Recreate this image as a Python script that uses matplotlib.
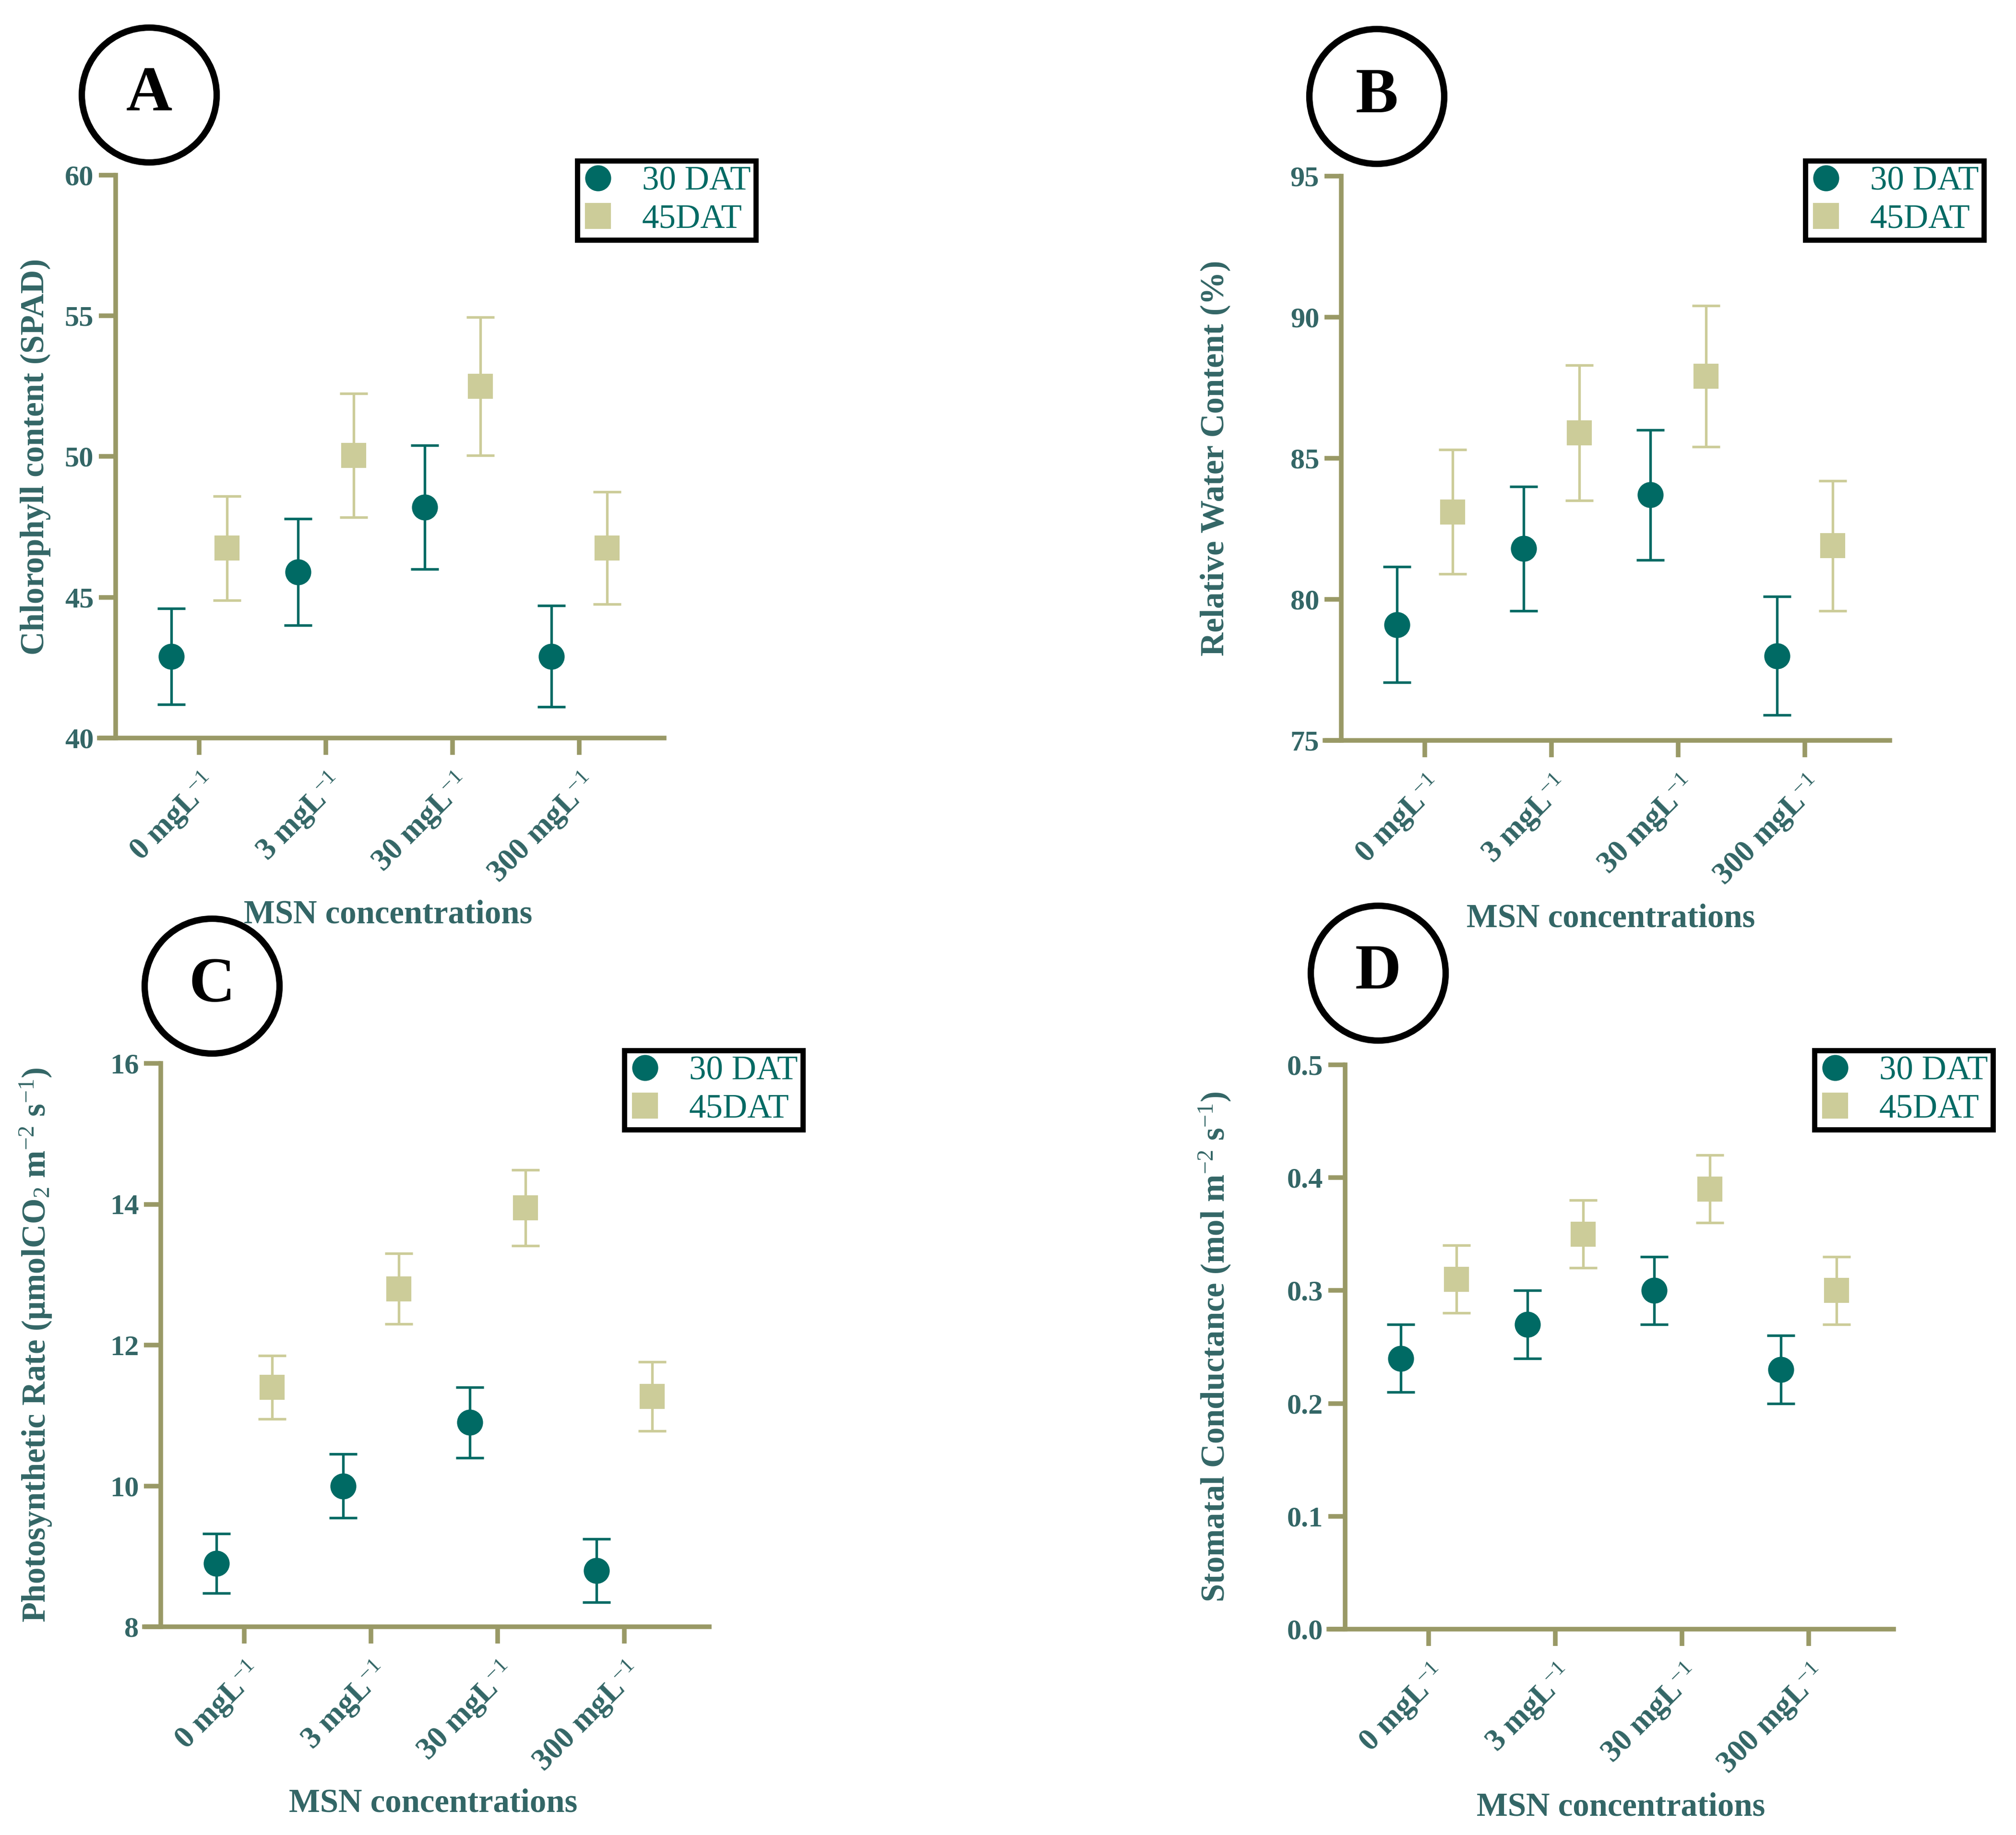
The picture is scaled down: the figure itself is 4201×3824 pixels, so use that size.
import numpy as np
import matplotlib
matplotlib.use("Agg")
import matplotlib.pyplot as plt
from matplotlib.lines import Line2D
from matplotlib.patches import Ellipse

plt.rcParams['font.family'] = ['Liberation Serif', 'DejaVu Serif']
plt.rcParams['mathtext.fontset'] = 'custom'
plt.rcParams['mathtext.rm'] = 'Liberation Serif'
plt.rcParams['mathtext.it'] = 'Liberation Serif:italic'
plt.rcParams['mathtext.bf'] = 'Liberation Serif:bold'

# data
categories = ['0 mgL$^{-1}$', '3 mgL$^{-1}$', '30 mgL$^{-1}$', '300 mgL$^{-1}$']

chl_30 = [42.9, 45.9, 48.2, 42.9]
chl_30_err = [1.7, 1.9, 2.2, 1.8]
chl_45 = [46.75, 50.05, 52.5, 46.75]
chl_45_err = [1.85, 2.2, 2.45, 2.0]

rwc_30 = [79.1, 81.8, 83.7, 78.0]
rwc_30_err = [2.05, 2.2, 2.3, 2.1]
rwc_45 = [83.1, 85.9, 87.9, 81.9]
rwc_45_err = [2.2, 2.4, 2.5, 2.3]

pn_30 = [8.9, 10.0, 10.9, 8.8]
pn_30_err = [0.42, 0.45, 0.5, 0.45]
pn_45 = [11.4, 12.8, 13.95, 11.27]
pn_45_err = [0.45, 0.5, 0.54, 0.49]

gs_30 = [0.24, 0.27, 0.30, 0.23]
gs_30_err = [0.03, 0.03, 0.03, 0.03]
gs_45 = [0.31, 0.35, 0.39, 0.30]
gs_45_err = [0.03, 0.03, 0.03, 0.03]

teal = '#006a64'
khaki = '#cccc99'
text_col = '#336666'
axis_col = '#999966'

W, H = 4201, 3824
fig = plt.figure(figsize=(W / 300, H / 300), dpi=300)

# layout in pixels: spine x, top, bottom, ylabel x, xlabel (x, y), circle, legend corner
panels = [
    dict(letter='A', sx=241, top=365, bot=1538, ylim=(40, 60), yticks=np.arange(40, 61, 5),
         ylabel='Chlorophyll content (SPAD)', s30=chl_30, e30=chl_30_err, s45=chl_45,
         e45=chl_45_err, fmt='%d', ylx=74, xl=(809, 1907), circ=(311, 198), leg=(1203, 335)),
    dict(letter='B', sx=2795, top=367, bot=1543, ylim=(75, 95), yticks=np.arange(75, 96, 5),
         ylabel='Relative Water Content (%)', s30=rwc_30, e30=rwc_30_err, s45=rwc_45,
         e45=rwc_45_err, fmt='%d', ylx=2532, xl=(3357, 1915), circ=(2869, 201), leg=(3762, 335)),
    dict(letter='C', sx=335, top=2216, bot=3390, ylim=(8, 16), yticks=np.arange(8, 17, 2),
         ylabel=r'Photosynthetic Rate (µmolCO$_2$ m$^{-2}$ s$^{-1}$)', s30=pn_30, e30=pn_30_err,
         s45=pn_45, e45=pn_45_err, fmt='%d', ylx=75, xl=(903, 3759), circ=(442, 2055),
         leg=(1301, 2189)),
    dict(letter='D', sx=2803, top=2219, bot=3395, ylim=(0, 0.5), yticks=np.arange(0, 0.51, 0.1),
         ylabel=r'Stomatal Conductance (mol m$^{-2}$ s$^{-1}$)', s30=gs_30, e30=gs_30_err,
         s45=gs_45, e45=gs_45_err, fmt='%.1f', ylx=2532, xl=(3378, 3767), circ=(2872, 2028),
         leg=(3781, 2189)),
]

step = 264
x = np.arange(len(categories))
off = 0.22

for p in panels:
    sx, top, bot = p['sx'], p['top'], p['bot']
    left = sx - 0.13 * step
    width = 4.46 * step
    height = bot - top
    ax = fig.add_axes([left / W, 1 - bot / H, width / W, height / H])
    ax.set_xlim(-0.79, 3.67)
    ax.set_ylim(*p['ylim'])

    ax.errorbar(x - off, p['s30'], yerr=p['e30'], fmt='o', color=teal, ms=12,
                elinewidth=1.3, capsize=7, capthick=1.3, zorder=3)
    ax.errorbar(x + off, p['s45'], yerr=p['e45'], fmt='s', color=khaki, ms=11.5,
                elinewidth=1.3, capsize=7, capthick=1.3, zorder=3)

    for side in ['top', 'right']:
        ax.spines[side].set_visible(False)
    ax.spines['left'].set_position(('data', -0.66))
    for side in ['left', 'bottom']:
        ax.spines[side].set_linewidth(2.3)
        ax.spines[side].set_color(axis_col)

    ax.set_yticks(p['yticks'])
    ax.set_yticklabels([p['fmt'] % v for v in p['yticks']])
    ax.set_xticks(x)
    ax.set_xticklabels(categories, rotation=45, ha='right', va='top',
                       rotation_mode='anchor')
    ax.tick_params(axis='both', length=8.5, width=2.3, color=axis_col,
                   labelcolor=text_col)
    ax.tick_params(axis='x', labelsize=15.5, pad=6)
    ax.tick_params(axis='y', labelsize=14.5, pad=2.5)
    for t in ax.get_xticklabels() + ax.get_yticklabels():
        t.set_fontweight('bold')

    ax.set_ylabel(p['ylabel'], fontsize=16.5, fontweight='bold', color=text_col)
    ax.yaxis.set_label_coords((p['ylx'] - left) / width, 0.5)
    ax.yaxis.label.set_va('center')
    ax.set_xlabel('MSN concentrations', fontsize=16.5, fontweight='bold',
                  color=text_col)
    ax.xaxis.set_label_coords((p['xl'][0] - left) / width, -(p['xl'][1] - bot) / height)
    ax.xaxis.label.set_va('center')

    handles = [Line2D([], [], ls='none', marker='o', color=teal, ms=12),
               Line2D([], [], ls='none', marker='s', color=khaki, ms=12)]
    lg = ax.legend(handles, ['30 DAT', '45DAT'], loc='upper left',
                   bbox_to_anchor=(p['leg'][0] / W, 1 - p['leg'][1] / H),
                   bbox_transform=fig.transFigure, borderaxespad=0,
                   fontsize=17, frameon=True, fancybox=False, framealpha=1,
                   borderpad=0.15, handlelength=0.9, handletextpad=0.85,
                   labelspacing=0.2)
    lg.get_frame().set_edgecolor('black')
    lg.get_frame().set_linewidth(2.6)
    for t in lg.get_texts():
        t.set_color(teal)

    cx, cy = p['circ']
    d = 281
    fig.patches.append(Ellipse((cx / W, 1 - cy / H), d / W, d / H,
                               transform=fig.transFigure, fill=False,
                               ec='black', lw=3.2))
    fig.text(cx / W, 1 - cy / H, p['letter'], fontsize=32,
             fontweight='bold', ha='center', va='center')

fig.savefig('out.png', dpi=300)
